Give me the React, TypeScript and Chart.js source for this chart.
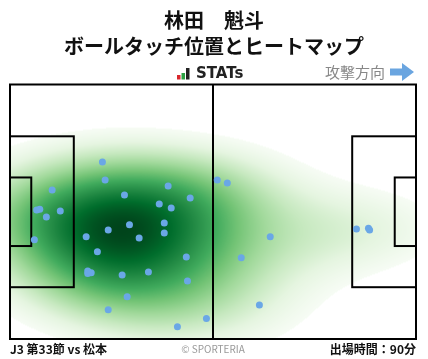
import React, { useEffect, useRef } from 'react';
import { Chart, registerables } from 'chart.js';

Chart.register(...registerables);

// Pitch size (metres) and markings
const PITCH_LENGTH = 105;
const PITCH_WIDTH = 68;
const PENALTY_DEPTH = 16.5;
const PENALTY_WIDTH = 40.32;
const GOAL_AREA_DEPTH = 5.5;
const GOAL_AREA_WIDTH = 18.32;

// Ball touch positions (x: metres from own goal line, y: metres from top touchline)
const touchX = [
  23.9, 24.6, 10.9, 29.6, 40.9, 46.6, 38.6, 41.7, 6.9, 7.7, 13.0, 9.4, 53.6,
  56.2, 39.9, 30.9, 25.4, 39.9, 33.4, 19.7, 6.3, 22.6, 45.6, 20.1, 20.1, 21.0,
  29.0, 35.8, 45.9, 30.3, 25.4, 50.8, 43.3, 67.3, 59.8, 64.5, 89.6, 92.7, 93.0,
];
const touchY = [
  20.7, 25.5, 28.2, 29.5, 27.1, 30.3, 31.9, 33.0, 33.5, 33.3, 33.8, 35.4, 25.5,
  26.3, 37.0, 37.5, 38.9, 39.7, 41.0, 40.7, 41.5, 44.7, 46.1, 49.8, 50.5, 50.3,
  50.9, 50.1, 52.5, 56.7, 60.2, 62.5, 64.7, 40.7, 46.3, 58.9, 38.6, 38.4, 38.9,
];

const TITLE_LINES = ['林田　魁斗', 'ボールタッチ位置とヒートマップ'];
const BRAND = 'STATs';
const DIRECTION_LABEL = '攻撃方向';
const MATCH_LABEL = 'J3 第33節 vs 松本';
const COPYRIGHT = '© SPORTERIA';
const MINUTES_LABEL = '出場時間：90分';

const BW_ADJUST_X = 1.5;
const BW_ADJUST_Y = 1.5;
const THRESH = 0.1;
const FONT = '"Noto Sans CJK JP", "Noto Sans", sans-serif';

const GREENS = [
  [247, 252, 245],
  [229, 245, 224],
  [199, 233, 192],
  [161, 217, 155],
  [116, 196, 118],
  [65, 171, 93],
  [35, 139, 69],
  [0, 109, 44],
  [0, 68, 27],
];

function greens(v: number): number[] {
  const t = Math.max(0, Math.min(1, v)) * (GREENS.length - 1);
  const i = Math.min(GREENS.length - 2, Math.floor(t));
  const f = t - i;
  const a = GREENS[i];
  const b = GREENS[i + 1];
  return [a[0] + (b[0] - a[0]) * f, a[1] + (b[1] - a[1]) * f, a[2] + (b[2] - a[2]) * f];
}

function std(v: number[]) {
  const m = v.reduce((s, x) => s + x, 0) / v.length;
  return Math.sqrt(v.reduce((s, x) => s + (x - m) ** 2, 0) / (v.length - 1));
}

function buildKde(xs: number[], ys: number[]) {
  const n = xs.length;
  const scott = Math.pow(n, -1 / 6);
  const bx = std(xs) * scott * BW_ADJUST_X;
  const by = std(ys) * scott * BW_ADJUST_Y;
  const ix = 1 / (2 * bx * bx);
  const iy = 1 / (2 * by * by);
  const density = (x: number, y: number) => {
    let s = 0;
    for (let i = 0; i < n; i++) {
      const dx = x - xs[i];
      const dy = y - ys[i];
      s += Math.exp(-(dx * dx * ix + dy * dy * iy));
    }
    return s;
  };
  // probability-mass CDF over density values (iso-proportion levels)
  const list: number[] = [];
  for (let x = -60; x <= PITCH_LENGTH + 60; x += 0.7) {
    for (let y = -45; y <= PITCH_WIDTH + 45; y += 0.7) list.push(density(x, y));
  }
  list.sort((a, b) => a - b);
  const vals = Float64Array.from(list);
  const cum = new Float64Array(vals.length);
  let acc = 0;
  for (let i = 0; i < vals.length; i++) {
    acc += vals[i];
    cum[i] = acc;
  }
  const total = acc;
  const massBelow = (d: number) => {
    if (d <= vals[0]) return 0;
    let lo = 0, hi = vals.length - 1;
    while (lo < hi) {
      const mid = (lo + hi + 1) >> 1;
      if (vals[mid] <= d) lo = mid;
      else hi = mid - 1;
    }
    return cum[lo] / total;
  };
  return { density, massBelow };
}

const pitchPlugin = {
  id: 'pitch',
  beforeDatasetsDraw(chart: any) {
    const { ctx, chartArea: a, scales } = chart;
    const xs = scales.x;
    const ys = scales.y;
    const w = Math.round(a.right - a.left);
    const h = Math.round(a.bottom - a.top);
    const kde = buildKde(touchX, touchY);
    const off = document.createElement('canvas');
    off.width = w;
    off.height = h;
    const octx = off.getContext('2d')!;
    const img = octx.createImageData(w, h);
    for (let py = 0; py < h; py++) {
      const dy = ys.getValueForPixel(a.top + py + 0.5);
      for (let px = 0; px < w; px++) {
        const dx = xs.getValueForPixel(a.left + px + 0.5);
        const q = kde.massBelow(kde.density(dx, dy));
        const k = (py * w + px) * 4;
        if (q < THRESH) {
          img.data[k + 3] = 0;
          continue;
        }
        const c = greens((q - THRESH) / (1 - THRESH));
        img.data[k] = c[0];
        img.data[k + 1] = c[1];
        img.data[k + 2] = c[2];
        img.data[k + 3] = 255;
      }
    }
    octx.putImageData(img, 0, 0);
    ctx.save();
    ctx.drawImage(off, a.left, a.top);

    // pitch markings
    ctx.strokeStyle = '#000';
    ctx.lineWidth = 2;
    const X = (v: number) => xs.getPixelForValue(v);
    const Y = (v: number) => ys.getPixelForValue(v);
    const rect = (x0: number, y0: number, x1: number, y1: number) => {
      ctx.strokeRect(X(x0), Y(y0), X(x1) - X(x0), Y(y1) - Y(y0));
    };
    const midY = PITCH_WIDTH / 2;
    rect(0, midY - PENALTY_WIDTH / 2, PENALTY_DEPTH, midY + PENALTY_WIDTH / 2);
    rect(0, midY - GOAL_AREA_WIDTH / 2, GOAL_AREA_DEPTH, midY + GOAL_AREA_WIDTH / 2);
    rect(PITCH_LENGTH - PENALTY_DEPTH, midY - PENALTY_WIDTH / 2, PITCH_LENGTH, midY + PENALTY_WIDTH / 2);
    rect(PITCH_LENGTH - GOAL_AREA_DEPTH, midY - GOAL_AREA_WIDTH / 2, PITCH_LENGTH, midY + GOAL_AREA_WIDTH / 2);
    ctx.beginPath();
    ctx.moveTo(X(PITCH_LENGTH / 2), Y(0));
    ctx.lineTo(X(PITCH_LENGTH / 2), Y(PITCH_WIDTH));
    ctx.stroke();
    rect(0, 0, PITCH_LENGTH, PITCH_WIDTH);
    ctx.restore();
  },
  afterDraw(chart: any) {
    const { ctx, chartArea: a } = chart;
    ctx.save();
    ctx.textBaseline = 'middle';
    ctx.fillStyle = '#111';
    ctx.textAlign = 'center';
    ctx.font = `bold 20px ${FONT}`;
    ctx.fillText(TITLE_LINES[0], 214, 20);
    ctx.fillText(TITLE_LINES[1], 214, 46);

    // brand
    ctx.fillStyle = '#d9262c';
    ctx.fillRect(177, 75, 3.5, 4.5);
    ctx.fillStyle = '#2ca243';
    ctx.fillRect(181.5, 73, 3.5, 6.5);
    ctx.fillStyle = '#222';
    ctx.fillRect(186, 68, 3.5, 11.5);
    ctx.textAlign = 'left';
    ctx.font = `bold 15px "DejaVu Sans", sans-serif`;
    ctx.fillText(BRAND, 196, 74);

    // attack direction
    ctx.fillStyle = '#888';
    ctx.font = `15px ${FONT}`;
    ctx.textAlign = 'right';
    ctx.fillText(DIRECTION_LABEL, 385, 72);
    ctx.fillStyle = '#6aa5e0';
    ctx.fillRect(390, 68.5, 13, 7);
    ctx.beginPath();
    ctx.moveTo(402, 63);
    ctx.lineTo(414, 72);
    ctx.lineTo(402, 81);
    ctx.closePath();
    ctx.fill();

    // footer
    ctx.fillStyle = '#111';
    ctx.font = `bold 12px ${FONT}`;
    ctx.textAlign = 'left';
    ctx.fillText(MATCH_LABEL, a.left, 349);
    ctx.textAlign = 'right';
    ctx.fillText(MINUTES_LABEL, a.right, 349);
    ctx.fillStyle = '#999';
    ctx.font = `10px ${FONT}`;
    ctx.textAlign = 'center';
    ctx.fillText(COPYRIGHT, 213, 349);
    ctx.restore();
  },
};

export default function App() {
  const ref = useRef<HTMLCanvasElement>(null);
  useEffect(() => {
    if (!ref.current) return;
    const chart = new Chart(ref.current, {
      type: 'scatter',
      data: {
        datasets: [
          {
            data: touchX.map((x, i) => ({ x, y: touchY[i] })),
            backgroundColor: '#6aa7e6',
            borderWidth: 0,
            pointRadius: 3.5,
          },
        ],
      },
      options: {
        animation: false,
        responsive: false,
        layout: { padding: { left: 10, right: 12, top: 84.5, bottom: 20 } },
        scales: {
          x: { type: 'linear', min: 0, max: PITCH_LENGTH, display: false },
          y: { type: 'linear', min: 0, max: PITCH_WIDTH, reverse: true, display: false },
        },
        plugins: { legend: { display: false }, tooltip: { enabled: false } },
      },
      plugins: [pitchPlugin],
    });
    return () => chart.destroy();
  }, []);
  return (
    <div style={{ position: 'absolute', left: 0, top: 0, width: 428, height: 359, background: '#fff' }}>
      <canvas ref={ref} width={428} height={359} style={{ display: 'block' }} />
    </div>
  );
}
